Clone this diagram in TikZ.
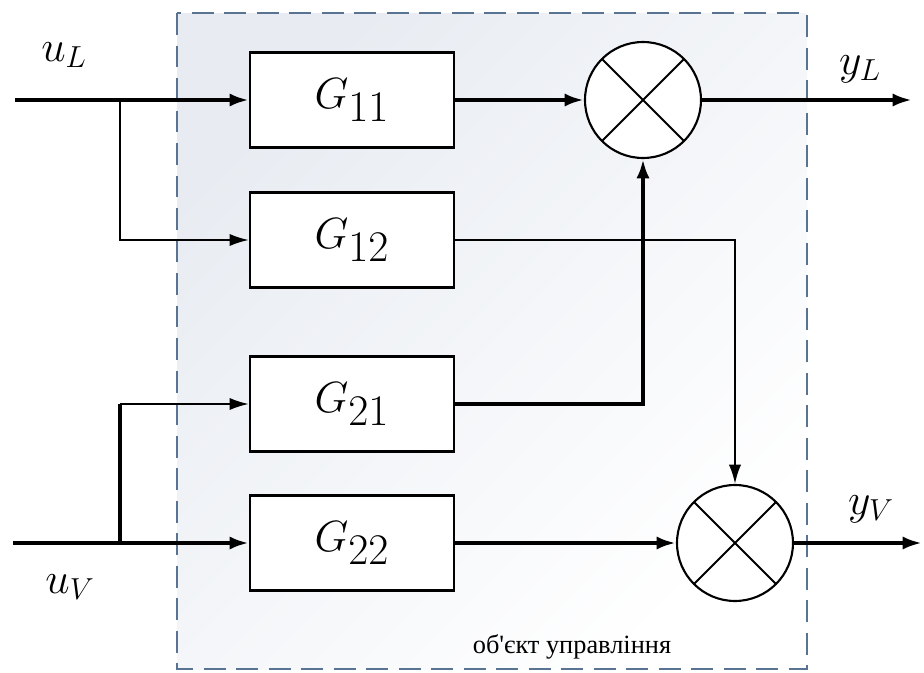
\documentclass[tikz,border=0pt]{standalone}
\usepackage{fontspec}
\newfontfamily\capfont{Liberation Serif}
\usetikzlibrary{arrows.meta, positioning}
\DeclareMathSizes{26}{26}{23}{18}
\DeclareMathSizes{30}{30}{19}{15}
\definecolor{framegray}{RGB}{88,116,146}
\definecolor{bgtint}{RGB}{232,236,242}

\begin{document}
\begin{tikzpicture}[x=0.02cm, y=-0.02cm,
		blk/.style={draw, line width=1.3pt, fill=white, minimum width=4.08cm, minimum height=1.9cm, inner sep=0pt, font=\fontsize{26}{30}\selectfont},
		mult/.style={circle, draw, line width=1.2pt, fill=white, minimum size=2.32cm, inner sep=0pt,
			path picture={\draw[line width=1.1pt] (path picture bounding box.north west) -- (path picture bounding box.south east)
				(path picture bounding box.south west) -- (path picture bounding box.north east);}},
		thk/.style={line width=2.3pt, -{Latex[length=11pt,width=7.5pt]}},
		thn/.style={line width=1.2pt, -{Latex[length=11pt,width=7pt]}},
		lbl/.style={font=\fontsize{30}{34}\selectfont}]
	\useasboundingbox (0,0) rectangle (924,673);

	% object boundary
	\fill[top color=bgtint, bottom color=white, shading angle=45] (177,13) rectangle (807,669);
	\draw[framegray, line width=1.7pt, dash pattern=on 12.5pt off 6pt] (177,13) rectangle (807,669);

	\node[blk] (g11) at (352,100) {$G_{11}$};
	\node[blk] (g12) at (352,240) {$G_{12}$};
	\node[blk] (g21) at (352,404) {$G_{21}$};
	\node[blk] (g22) at (352,543) {$G_{22}$};

	\node[mult] (m1) at (643,100) {};
	\node[mult] (m2) at (735,543) {};

	\coordinate (inL) at (15,100);
	\coordinate (inV) at (13,543);
	\coordinate (brL) at (120,100);
	\coordinate (brV) at (120,543);
	\coordinate (outL) at (912,100);
	\coordinate (outV) at (922,543);

	\draw[thk] (inL) -- (g11);
	\draw[thn] (brL) |- (g12);
	\draw[line width=2.3pt] (brV) -- (brV |- g21);
	\draw[thn] (brV |- g21) -- (g21);
	\draw[thk] (inV) -- (g22);

	\draw[thk] (g11) -- (m1);
	\draw[thk] (g21) -| (m1);
	\draw[thn] (g12) -| (m2);
	\draw[thk] (g22) -- (m2);
	\draw[thk] (m1) -- (outL);
	\draw[thk] (m2) -- (outV);

	\node[lbl] (uL) at (64,55) {$u_L$};
	\node[lbl] (uV) at (70,587) {$u_V$};
	\node[lbl] (yL) at (860,69) {$y_L$};
	\node[lbl] (yV) at (871,509) {$y_V$};
	\node[font=\capfont\fontsize{15}{18}\selectfont] (cap) at (572,647) {об'єкт управління};
\end{tikzpicture}
\end{document}
